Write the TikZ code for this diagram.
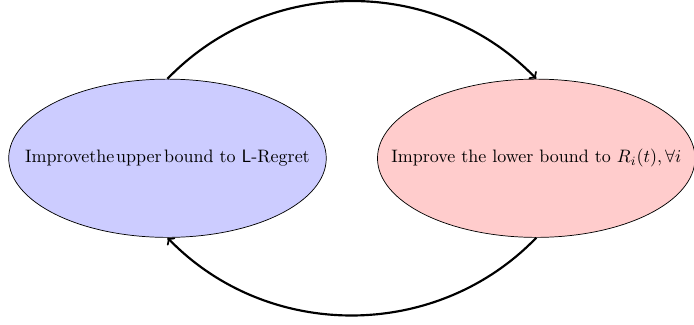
\documentclass[tikz,border=0pt]{standalone}
\usetikzlibrary{shapes.geometric}
\begin{document}
\begin{tikzpicture}
\useasboundingbox (0,0) rectangle (13.55,6.33);
\tikzset{bound/.style={ellipse,draw,minimum width=6.2cm,minimum height=3.09cm,inner sep=0pt}}
\node[bound,fill=blue!20] (upper) at (3.27,3.24) {};
\node[bound,fill=red!20] (lower) at (10.47,3.24) {};
\node at (upper.center) {Improve\kern0pt the\kern1pt upper\kern1.4pt bound to \textsf{L}-Regret};
\node at (lower.center) {Improve the lower bound to $R_i(t),\forall i$};
\draw[very thick,->] (upper.north) to[bend left=46] (lower.north);
\draw[very thick,->] (lower.south) to[bend left=46] (upper.south);
\end{tikzpicture}
\end{document}
